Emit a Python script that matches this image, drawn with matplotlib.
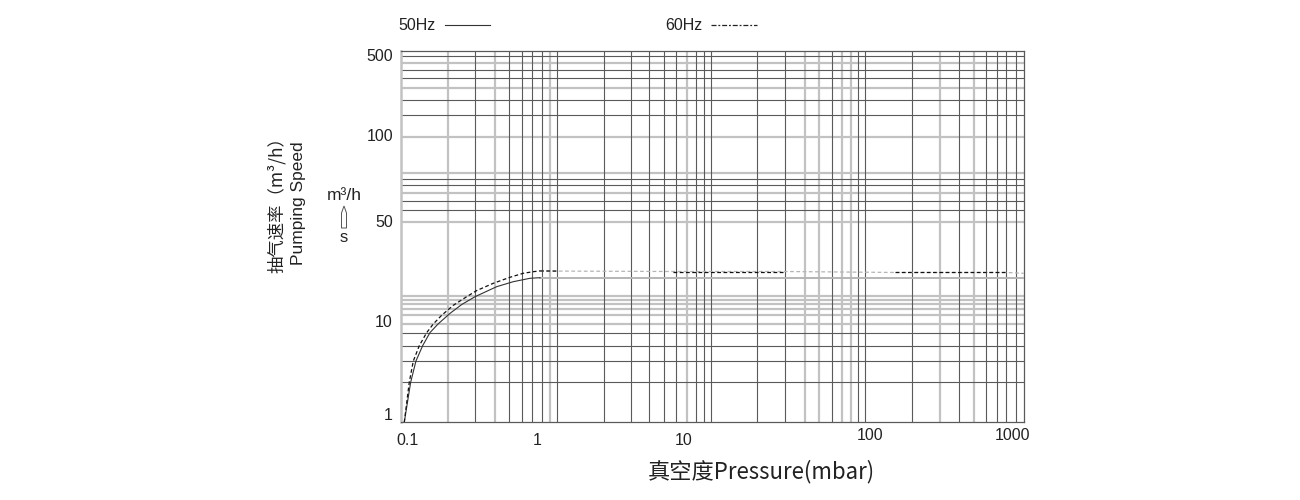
import numpy as np
import matplotlib
matplotlib.use("Agg")
import matplotlib.pyplot as plt
from matplotlib.patches import Polygon

# ---------------- data ----------------
x_ticks = [0.1, 1, 10, 100, 1000]
x_tick_labels = ["0.1", "1", "10", "100", "1000"]
y_ticks = [1, 10, 50, 100, 500]
y_tick_labels = ["1", "10", "50", "100", "500"]

# template grid (values in mbar / m3/h)
x_grid_light = [0.203, 0.47, 1.22, 10.34, 44.7, 53.0, 70.4, 79.0, 307, 531]
x_grid_dark = [0.33, 0.61, 0.77, 0.92, 1.08, 1.36, 2.84, 4.38, 5.81, 7.35, 8.86,
               11.64, 12.86, 14.02, 24.8, 35.0, 62.3, 86.5, 94.4,
               198, 421, 645, 769, 889, 1045]
y_grid_light = [10, 11.53, 12.74, 13.66, 14.62, 15.58, 50, 63.6, 74.45, 100, 269.7, 446]
y_grid_dark = [2.55, 4.20, 6.02, 8.16, 55.1, 59.45, 67.7, 71.1,
               154.7, 209.3, 325.8, 387.3, 507]

# 50 Hz curve
x50 = [0.0936, 0.1049, 0.1153, 0.130, 0.148, 0.171, 0.212, 0.261, 0.331, 0.487, 0.655, 0.882, 1.05]
y50 = [1.0, 2.55, 4.20, 6.02, 8.16, 10.0, 11.84, 13.61, 15.40, 18.05, 19.53, 20.61, 20.81]
x50_flat = [1.05, 1190]
y50_flat = [20.81, 20.81]

# 60 Hz curve
x60 = [0.0936, 0.1023, 0.110, 0.1224, 0.1396, 0.1571, 0.1825, 0.2245, 0.2851,
       0.3408, 0.4584, 0.6175, 0.7829, 0.9361, 1.05]
y60 = [1.0, 2.55, 4.20, 6.02, 8.16, 10.0, 11.48, 13.44, 15.40,
       16.97, 19.04, 20.94, 22.31, 22.88, 23.17]
x60_flat = [1.05, 1.36, 8.42, 34.9, 149.6, 903.6, 1190]
y60_flat = [23.15, 23.1, 22.95, 22.95, 22.6, 22.6, 22.3]

x_limits = (0.0883, 1194)
y_limits = (1, 564)

# ---------------- non-uniform template scales ----------------
XL = np.array([-3.0, -1.0, 0.0, 1.0, 2.0, 3.0, 5.0])
XP = np.array([408 - 2 * 129, 408, 537, 684, 870, 1013, 1013 + 2 * 143], float)

def fx(v):
    v = np.asarray(v, float)
    return np.interp(np.log10(np.clip(v, 1e-12, None)), XL, XP)

def fxi(p):
    return 10 ** np.interp(np.asarray(p, float), XP, XL)

YL = np.array([-2.0, 0.0, 1.0, np.log10(50), 2.0, np.log10(500), 4.0])
YP = np.array([77.7 - 2 * 98.3, 77.7, 176.0, 277.7, 363.0, 443.0,
               443.0 + (4 - np.log10(500)) * 114.45])

def fy(v):
    v = np.asarray(v, float)
    return np.interp(np.log10(np.clip(v, 1e-12, None)), YL, YP)

def fyi(p):
    return 10 ** np.interp(np.asarray(p, float), YP, YL)

# ---------------- figure ----------------
W, H = 1300, 500
fig = plt.figure(figsize=(13, 5), dpi=100)
ax = fig.add_axes([401 / W, 1 - 422.3 / H, (1024 - 401) / W, (422.3 - 51) / H])
ax.set_xscale('function', functions=(fx, fxi))
ax.set_yscale('function', functions=(fy, fyi))
ax.set_xlim(*x_limits)
ax.set_ylim(*y_limits)
ax.xaxis.set_major_locator(matplotlib.ticker.NullLocator())
ax.xaxis.set_minor_locator(matplotlib.ticker.NullLocator())
ax.yaxis.set_major_locator(matplotlib.ticker.NullLocator())
ax.yaxis.set_minor_locator(matplotlib.ticker.NullLocator())

LIGHT = '#c2c2c2'
DARK = '#5a5a5a'
for v in x_grid_light:
    ax.axvline(v, color=LIGHT, lw=1.6, zorder=1)
for v in y_grid_light:
    ax.axhline(v, color=LIGHT, lw=1.6, zorder=1)
for v in x_grid_dark:
    ax.axvline(v, color=DARK, lw=0.8, zorder=2)
for v in y_grid_dark:
    ax.axhline(v, color=DARK, lw=0.8, zorder=2)

for s in ['top', 'right', 'bottom']:
    ax.spines[s].set_color(DARK)
    ax.spines[s].set_linewidth(0.9)
ax.spines['left'].set_color(LIGHT)
ax.spines['left'].set_linewidth(1.8)

# curves
ax.plot(x50_flat, y50_flat, color='#b5b5b5', lw=1.4, zorder=3)
ax.plot(x50, y50, color='#333333', lw=0.8, zorder=4)
ax.plot(x60_flat, y60_flat, color='#b5b5b5', lw=0.9, ls=(0, (3, 2)), zorder=3)
for i in (0, 2, 4):
    ax.plot(x60_flat[i:i + 2], y60_flat[i:i + 2], color='#111111', lw=0.9,
            ls=(0, (3, 2)), zorder=4)
ax.plot(x60, y60, color='#111111', lw=0.9, ls=(0, (3, 2)), zorder=4)

# tick labels
TF = dict(family=['Liberation Sans', 'DejaVu Sans'], fontsize=11.5, color='#222222')
x_off = [-12.9, -12.9, -12.9, -9.4, -9.4]
for v, lbl, dy in zip(x_ticks, x_tick_labels, x_off):
    ax.annotate(lbl, xy=(v, 0), xycoords=('data', 'axes fraction'),
                xytext=(0, dy), textcoords='offset points',
                ha='center', va='center', **TF)
y_off = [5.0, 1.4, -0.4, 0, 0]
for v, lbl, dy in zip(y_ticks, y_tick_labels, y_off):
    ax.annotate(lbl, xy=(0, v), xycoords=('axes fraction', 'data'),
                xytext=(-5.8, dy), textcoords='offset points',
                ha='right', va='center', **TF)

# axis titles
fig.text(761 / W, 1 - 472 / H, '真空度Pressure(mbar)', ha='center', va='center',
         fontsize=16, color='#222222',
         family=['Noto Sans CJK SC', 'DejaVu Sans'])
fig.text(277 / W, 1 - 201 / H, '抽气速率（m³/h）', rotation=90, ha='center', va='center',
         fontsize=12.5, color='#222222',
         family=['Noto Sans CJK SC', 'DejaVu Sans'])
fig.text(298 / W, 1 - 203 / H, 'Pumping Speed', rotation=90, ha='center', va='center',
         family=['Liberation Sans', 'DejaVu Sans'], fontsize=12.5, color='#222222')
fig.text(344 / W, 1 - 195 / H, 'm³/h', ha='center', va='center',
         family=['Liberation Sans', 'DejaVu Sans'], fontsize=12.5, color='#222222')
fig.text(344 / W, 1 - 238 / H, 's', ha='center', va='center',
         family=['Liberation Sans', 'DejaVu Sans'], fontsize=12, color='#222222')
arrow_px = [(341.5, 228), (346.5, 228), (346.5, 213), (344, 206), (341.5, 213)]
fig.patches.append(Polygon([(px / W, 1 - py / H) for px, py in arrow_px], closed=True,
                           fill=False, edgecolor='#555555', lw=0.7,
                           transform=fig.transFigure, figure=fig))

# legend
fig.text(398 / W, 1 - 25 / H, '50Hz', ha='left', va='center', **TF)
fig.add_artist(matplotlib.lines.Line2D([445 / W, 490 / W], [1 - 25 / H, 1 - 25 / H],
                                       color='#333333', lw=0.8))
fig.text(665 / W, 1 - 25 / H, '60Hz', ha='left', va='center', **TF)
fig.add_artist(matplotlib.lines.Line2D([711 / W, 757 / W], [1 - 25 / H, 1 - 25 / H],
                                       color='#222222', lw=0.9,
                                       ls=(0, (4, 1.5, 1.5, 1.5))))

fig.savefig('out.png', dpi=100)
